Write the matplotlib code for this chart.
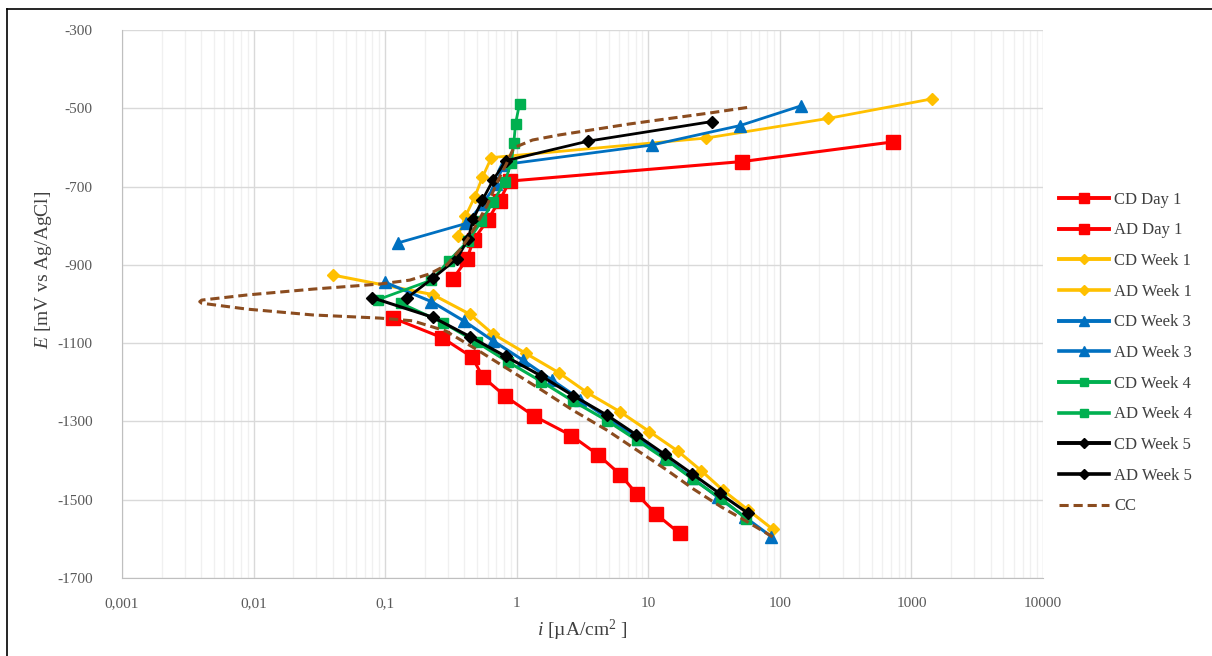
import matplotlib.pyplot as plt
from matplotlib.lines import Line2D
from matplotlib.ticker import LogLocator, NullFormatter

plt.rcParams['font.family'] = ['Liberation Serif', 'DejaVu Serif']
plt.rcParams['mathtext.fontset'] = 'custom'
plt.rcParams['mathtext.rm'] = 'Liberation Serif'
plt.rcParams['mathtext.it'] = 'Liberation Serif:italic'

# data (i in uA/cm2, E in mV vs Ag/AgCl)
cd_day1_i = [0.115, 0.271, 0.459, 0.552, 0.821, 1.35, 2.60, 4.18, 6.14, 8.20, 11.4, 17.3]
cd_day1_E = [-1036, -1086, -1136, -1186, -1236, -1286, -1336, -1386, -1436, -1486, -1536, -1586]
ad_day1_i = [0.327, 0.417, 0.47, 0.60, 0.74, 0.885, 52, 720]
ad_day1_E = [-936, -886, -836, -786, -736, -686, -636, -586]

cd_wk1_i = [0.040, 0.23, 0.44, 0.657, 1.17, 2.10, 3.42, 6.14, 10.2, 16.8, 25.3, 37.0, 57.3, 88.7]
cd_wk1_E = [-926, -976, -1026, -1076, -1126, -1176, -1226, -1276, -1326, -1376, -1426, -1476, -1526, -1576]
ad_wk1_i = [0.358, 0.408, 0.48, 0.549, 0.642, 27.6, 232, 1432]
ad_wk1_E = [-826, -776, -726, -676, -626, -576, -526, -476]

cd_wk3_i = [0.099, 0.225, 0.40, 0.66, 1.12, 1.85, 3.05, 5.0, 8.3, 13.5, 21.5, 34, 54, 86]
cd_wk3_E = [-944, -994, -1044, -1094, -1144, -1194, -1244, -1294, -1344, -1394, -1444, -1494, -1544, -1594]
ad_wk3_i = [0.125, 0.415, 0.55, 0.70, 0.79, 10.6, 50, 144]
ad_wk3_E = [-844, -794, -744, -694, -644, -594, -544, -494]

cd_wk4_i = [0.131, 0.276, 0.50, 0.859, 1.54, 2.68, 4.86, 8.2, 13.7, 21.9, 35.9, 55.6]
cd_wk4_E = [-998, -1048, -1098, -1148, -1198, -1248, -1298, -1348, -1398, -1448, -1498, -1548]
ad_wk4_i = [0.088, 0.225, 0.306, 0.427, 0.539, 0.661, 0.81, 0.91, 0.95, 0.98, 1.05]
ad_wk4_E = [-989, -939, -889, -839, -789, -739, -689, -639, -589, -539, -489]

cd_wk5_i = [0.080, 0.231, 0.445, 0.825, 1.54, 2.68, 4.85, 8.1, 13.3, 21.6, 34.8, 57]
cd_wk5_E = [-984, -1034, -1084, -1134, -1184, -1234, -1284, -1334, -1384, -1434, -1484, -1534]
ad_wk5_i = [0.147, 0.231, 0.352, 0.427, 0.466, 0.549, 0.66, 0.825, 3.48, 30.3]
ad_wk5_E = [-984, -934, -884, -834, -784, -734, -684, -634, -584, -534]

cc_i = [88.2, 56.9, 36.1, 22.1, 13.8, 8.16, 4.83, 2.66, 1.55, 0.855, 0.506, 0.289, 0.162,
        0.091, 0.0282, 0.00888, 0.00404, 0.0039, 0.00404, 0.00888, 0.0282, 0.091, 0.154,
        0.218, 0.294, 0.369, 0.44, 0.506, 0.592, 0.705, 0.84, 0.949, 1.32, 2.12, 3.59,
        7.22, 13.8, 29.3, 59.0]
cc_E = [-1595, -1557, -1519, -1473, -1424, -1373, -1322, -1271, -1220, -1166, -1118, -1069,
        -1043, -1036, -1028, -1013, -998, -994, -990, -977, -962, -949, -939, -923, -900,
        -862, -826, -791, -750, -691, -640, -601, -581, -568, -556, -540, -527, -512, -497]

x_ticks = [0.001, 0.01, 0.1, 1, 10, 100, 1000, 10000]
x_labels = ['0,001', '0,01', '0,1', '1', '10', '100', '1000', '10000']
y_ticks = [-300, -500, -700, -900, -1100, -1300, -1500, -1700]

RED, YEL, BLU, GRN, BLK, BRN = '#FF0000', '#FFC000', '#0070C0', '#00B050', '#000000', '#8B4C1F'

fig = plt.figure(figsize=(12.12, 6.56), dpi=100)
ax = fig.add_axes([122 / 1212, 1 - 578 / 656, (1043 - 122) / 1212, (578 - 30) / 656])

series = [
    (cd_day1_i, cd_day1_E, RED, 's', 9.5, 2.2, 'CD Day 1'),
    (ad_day1_i, ad_day1_E, RED, 's', 9.5, 2.2, 'AD Day 1'),
    (cd_wk1_i, cd_wk1_E, YEL, 'D', 5.8, 2.2, 'CD Week 1'),
    (ad_wk1_i, ad_wk1_E, YEL, 'D', 5.8, 2.0, 'AD Week 1'),
    (cd_wk3_i, cd_wk3_E, BLU, '^', 8.5, 2.2, 'CD Week 3'),
    (ad_wk3_i, ad_wk3_E, BLU, '^', 8.5, 2.0, 'AD Week 3'),
    (cd_wk4_i, cd_wk4_E, GRN, 's', 7.5, 2.2, 'CD Week 4'),
    (ad_wk4_i, ad_wk4_E, GRN, 's', 7.5, 2.0, 'AD Week 4'),
    (cd_wk5_i, cd_wk5_E, BLK, 'D', 5.8, 2.2, 'CD Week 5'),
    (ad_wk5_i, ad_wk5_E, BLK, 'D', 5.8, 2.0, 'AD Week 5'),
]
handles = []
for xs, ys, c, m, ms, lw, lab in series:
    ax.plot(xs, ys, color=c, marker=m, markersize=ms, linewidth=lw, zorder=3)
    handles.append(Line2D([], [], color=c, marker=m, markersize=ms * 0.8,
                          linewidth=lw + 0.6, label=lab))
ax.plot(cc_i, cc_E, color=BRN, linestyle=(0, (3, 1.6)), linewidth=2.2, zorder=4)
handles.append(Line2D([], [], color=BRN, linestyle=(0, (3, 1.6)), linewidth=2.2, label='CC'))

ax.set_xscale('log')
ax.set_xlim(0.001, 10000)
ax.set_ylim(-1700, -300)
ax.set_xticks(x_ticks)
ax.set_xticklabels(x_labels)
ax.xaxis.set_minor_locator(LogLocator(base=10, subs=range(2, 10), numticks=20))
ax.xaxis.set_minor_formatter(NullFormatter())
ax.set_yticks(y_ticks)
ax.set_yticklabels([str(v) for v in y_ticks])
ax.tick_params(axis='both', which='both', length=0, labelsize=11, labelcolor='#595959')
ax.tick_params(axis='y', pad=21)
ax.tick_params(axis='x', pad=14)

ax.grid(True, which='major', axis='both', color='#D9D9D9', linewidth=1.0, zorder=0)
ax.grid(True, which='minor', axis='x', color='#F0F0F0', linewidth=1.0, zorder=0)
ax.set_axisbelow(True)
for side in ['top', 'right']:
    ax.spines[side].set_visible(False)
for side in ['left', 'bottom']:
    ax.spines[side].set_color('#BFBFBF')

ax.set_ylabel(r'$\mathit{E}$ [mV vs Ag/AgCl]', fontsize=14, color='#404040')
ax.yaxis.set_label_coords((54 - 122) / 921, 1 - (270 - 30) / 548)
ax.set_xlabel(r'$\mathit{i}$ [µA/cm$^{2}$ ]', fontsize=14, color='#404040', labelpad=5)

fig.legend(handles=handles, loc='center left', bbox_to_anchor=(1052 / 1212, 1 - 353 / 656),
           frameon=False, fontsize=12, handlelength=3.0, handletextpad=0.35,
           labelspacing=0.88, borderaxespad=0, labelcolor='#404040')

# outer frame of the original picture
fig.add_artist(Line2D([7 / 1212, 1], [1 - 9 / 656, 1 - 9 / 656], color='black', linewidth=1.2))
fig.add_artist(Line2D([7 / 1212, 7 / 1212], [0, 1 - 9 / 656], color='black', linewidth=1.2))

fig.savefig('out.png', dpi=100)
